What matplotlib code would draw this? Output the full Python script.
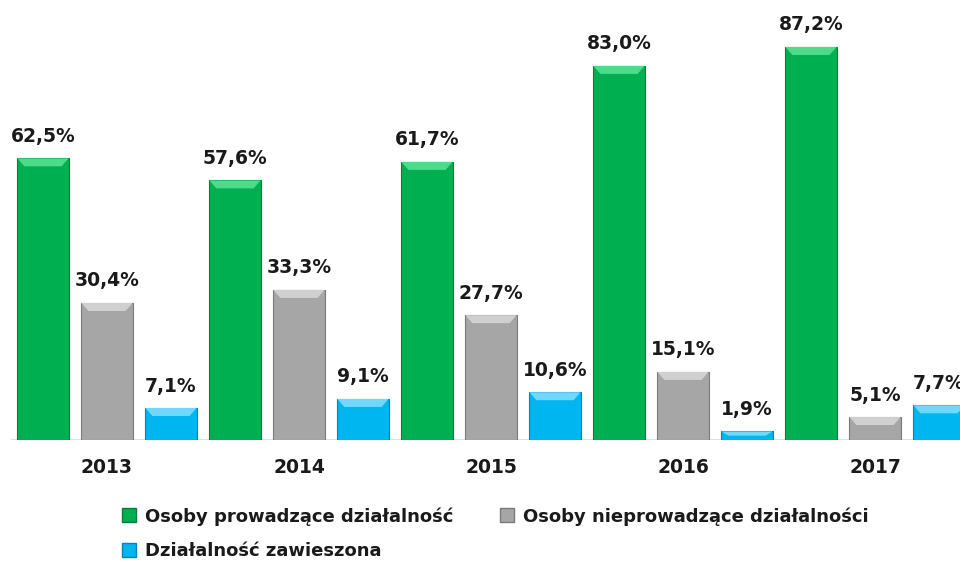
import matplotlib
matplotlib.use("Agg")
import matplotlib.pyplot as plt
from matplotlib.patches import Polygon
from matplotlib.lines import Line2D
import numpy as np

years = ["2013", "2014", "2015", "2016", "2017"]
prowadzace = [62.5, 57.6, 61.7, 83.0, 87.2]
nieprowadzace = [30.4, 33.3, 27.7, 15.1, 5.1]
zawieszona = [7.1, 9.1, 10.6, 1.9, 7.7]
series_names = ["Osoby prowadzące działalność", "Osoby nieprowadzące działalności", "Działalność zawieszona"]
colors = ["#00B050", "#A6A6A6", "#00B6F0"]
light = ["#4DDB8A", "#D0D0D0", "#6FD8FF"]
dark = ["#00803A", "#7A7A7A", "#0085B5"]

W, H = 960, 561
fig = plt.figure(figsize=(W / 100, H / 100), dpi=100)
base_px = 440
scale = 4.507
ymax = 97
ax = fig.add_axes([11 / W, (H - base_px) / H, 960 / W, ymax * scale / H])
ax.set_xlim(-0.5, 4.5)
ax.set_ylim(0, ymax)
for s in ax.spines.values():
    s.set_visible(False)
ax.set_yticks([])
ax.set_xticks([])

x = np.arange(len(years))
slot = 1 / 3
bw = slot * 0.8
data = [prowadzace, nieprowadzace, zawieszona]
bev_y = 8 / scale
bev_x = 7 / 192
for i, vals in enumerate(data):
    xs = x + (i - 1) * slot
    bars = ax.bar(xs, vals, width=bw, color=colors[i], edgecolor=dark[i], linewidth=0.8, zorder=2)
    for b, v in zip(bars, vals):
        x0, x1 = b.get_x(), b.get_x() + b.get_width()
        h = min(bev_y, v / 2)
        ax.add_patch(Polygon([[x0, v], [x1, v], [x1 - bev_x, v - h], [x0 + bev_x, v - h]],
                             closed=True, facecolor=light[i], edgecolor="none", zorder=3))
        ax.annotate(f"{v:.1f}%".replace(".", ","), (b.get_x() + b.get_width() / 2, v),
                    xytext=(0, 9), textcoords="offset points", ha="center", va="bottom",
                    fontsize=13.5, fontweight="bold", color="#1a1a1a", zorder=4,
                    annotation_clip=False)

ax.axhline(0, color="#D9D9D9", linewidth=1.2, zorder=1)
for xi, y in zip(x, years):
    ax.text(xi, -6, y, ha="center", va="center", fontsize=13.5, fontweight="bold", color="#1a1a1a",
            transform=ax.transData, clip_on=False)

order = [0, 2, 1]
handles = [Line2D([], [], marker="s", linestyle="none", markersize=10, markerfacecolor=colors[i],
                  markeredgecolor=dark[i]) for i in order]
labels = [series_names[i] for i in order]
leg = fig.legend(handles, labels, loc="upper left", bbox_to_anchor=(104 / W, 1 - 491 / H),
                 ncol=2, frameon=False, prop={"weight": "bold", "size": 13},
                 handletextpad=0.35, columnspacing=2.5, labelspacing=0.92, handlelength=1.0)
for t in leg.get_texts():
    t.set_color("#1a1a1a")

fig.savefig("out.png", dpi=100)
